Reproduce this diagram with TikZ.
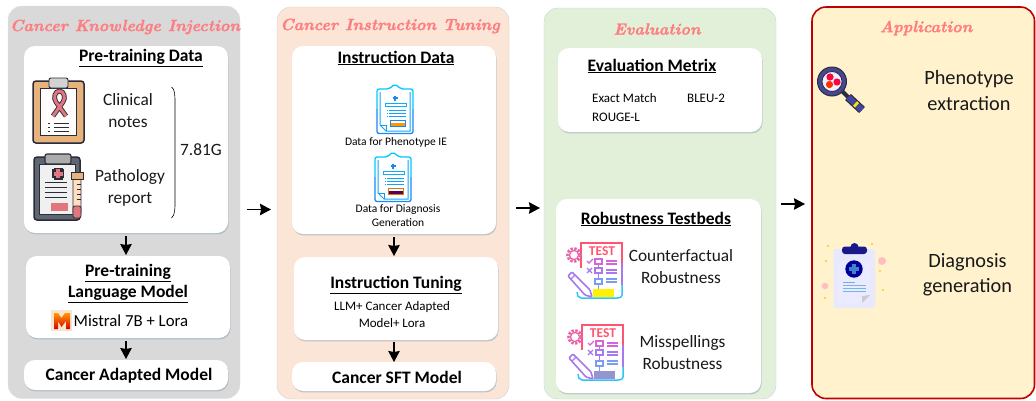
\documentclass[tikz,border=0pt]{standalone}
\usepackage{fontspec}
\setmainfont{Carlito}
\usetikzlibrary{shadows,arrows.meta}
\definecolor{cgray}{HTML}{D9D9D9}
\definecolor{cpeach}{HTML}{FBE5D6}
\definecolor{cgreen}{HTML}{E2F0D9}
\definecolor{cyel}{HTML}{FFF2CC}
\definecolor{cred}{HTML}{C00000}
\definecolor{ctitle}{HTML}{FF7C80}
\definecolor{cdark}{HTML}{2B2B3A}
\definecolor{cshadow}{HTML}{8FA6B8}
\definecolor{tred}{HTML}{FF5570}
\definecolor{tpink}{HTML}{E860A8}
\definecolor{tmag}{HTML}{D066D8}
\definecolor{tvio}{HTML}{A878EE}
\definecolor{tblu}{HTML}{7C9CF0}
\definecolor{tcya}{HTML}{30C4F2}
\definecolor{dcya}{HTML}{00C8FF}
\definecolor{dblu}{HTML}{1888F5}
\definecolor{ftan}{HTML}{E8B27C}
\definecolor{ribb}{HTML}{E0777F}
\definecolor{fgra}{HTML}{5E6670}
\newfontfamily\titlefont[BoldItalicFeatures={FakeBold=1.2}]{Latin Modern Roman}
\newcommand{\fs}[2]{\fontsize{#1}{#2}\selectfont}
\tikzset{
  x=1pt,y=-1pt,
  panel/.style={rounded corners=14pt,inner sep=0pt,outer sep=0pt,anchor=center},
  wbox/.style={fill=white,rounded corners=11pt,inner sep=0pt,outer sep=0pt,
    drop shadow={shadow xshift=0.6pt,shadow yshift=-1.4pt,opacity=.55,fill=cshadow}},
  ptitle/.style={text=ctitle,inner sep=0pt,font=\titlefont\bfseries\itshape\fs{16.2}{20}},
  head/.style={font=\bfseries\fs{17.5}{21.5},align=center,inner sep=0pt,yshift=-1pt},
  big/.style={font=\fs{17.3}{22},align=center,inner sep=0pt,text=black!90,yshift=-1pt},
  mid/.style={font=\fs{16.8}{21},align=center,inner sep=0pt,yshift=-.5pt},
  small/.style={font=\fs{11.5}{14},align=center,inner sep=0pt,yshift=-.5pt},
  smallb/.style={font=\fs{13}{16.5},align=center,inner sep=0pt,yshift=-.5pt},
  arr/.style={line width=1.5pt,-{Stealth[length=11pt,width=11.5pt,inset=1pt]}},
  tst/.style={inner sep=0pt,font=\bfseries\fs{13.5}{13.5},text=#1},
  tst/.default=red
}
\newcommand{\clinicalicon}{%
 \begin{scope}[shift={(33,78)}]
  \draw[cdark,line width=1.5pt,fill=ftan,rounded corners=3pt] (0,3) rectangle (51,65);
  \draw[cdark,line width=.9pt,fill=white!95!pink] (7,10) rectangle (43,57);
  \draw[cdark,line width=.9pt,fill=gray!35,rounded corners=2pt] (16,0) rectangle (35,10);
  \draw[cdark,line width=4.8pt] (20,38) -- (30,24) .. controls (33,20) and (31,13) .. (26.5,13) .. controls (22,13) and (20,20) .. (23,24) -- (33,38);
  \draw[ribb,line width=3pt] (20,38) -- (30,24) .. controls (33,20) and (31,13) .. (26.5,13) .. controls (22,13) and (20,20) .. (23,24) -- (33,38);
  \foreach \yy in {45,49,53}{\draw[cdark,line width=.8pt] (21,\yy) -- (36,\yy); \draw[cdark,line width=.8pt] (15,\yy) -- (17,\yy);}
 \end{scope}}
\newcommand{\pathicon}{%
 \begin{scope}[shift={(34,154)}]
  \draw[cdark,line width=1.5pt,fill=fgra,rounded corners=3pt] (0,3) rectangle (46,66);
  \draw[cdark,line width=.8pt,fill=gray!12] (5,10) rectangle (41,60);
  \draw[cdark,line width=1.1pt,fill=gray!65,rounded corners=2pt] (11,0) rectangle (37,10);
  \fill[cdark] (19.5,13.5) rectangle (28.5,25.5);
  \fill[cdark] (18,15) rectangle (30,24);
  \fill[ribb] (22,15) rectangle (26,24);
  \fill[ribb] (19.5,17.5) rectangle (28.5,21.5);
  \foreach \yy in {28,33,38,43}{\draw[cdark,line width=.9pt] (11,\yy) -- (33,\yy);}
  \fill[ribb] (17,49) rectangle (34,57);
  \draw[cdark,line width=.9pt,fill=orange!25!white,rounded corners=1pt] (39,22) rectangle (47,60);
  \draw[cdark,line width=.7pt,fill=ribb,rounded corners=2pt] (39,52) rectangle (47,64);
  \draw[cdark,line width=.9pt,fill=ftan] (37,18) rectangle (49,25);
  \foreach \yy in {30,35,40,45}{\draw[cdark,line width=.6pt] (43,\yy) -- (47,\yy);}
 \end{scope}}
\newcommand{\bluedoc}[4]{% x y fill outline
 \begin{scope}[shift={(#1,#2)}]
  \draw[dcya,line width=1.3pt,rounded corners=2pt] (0,25) -- (0,5) -- (12,5) -- (18,0) -- (24,5) -- (36,5) -- (36,25);
  \draw[dblu,line width=1.3pt,rounded corners=2pt] (36,25) -- (36,49.5) -- (0,49.5) -- (0,25);
  \draw[dcya!50!dblu,line width=1pt] (3,8) -- (3,41) -- (9,47) -- (33,47) -- (33,8);
  \draw[dcya!30!dblu,line width=.9pt] (3,41) -- (9,41) -- (9,47);
  \draw[dblu,line width=1.2pt] (18,11.5) -- (18,16.5) (15.5,14) -- (20.5,14);
  \draw[dcya!60!dblu,line width=.9pt,fill=white] (8,19) rectangle (29,22.5);
  \foreach \yy in {26,29,32}{\draw[dcya!40!dblu,line width=1pt] (12,\yy) -- (29,\yy); \draw[dcya!40!dblu,line width=1pt] (9.5,\yy) -- (10.5,\yy);}
  \draw[#4,line width=1pt] (13,36) rectangle (28,42);
  \fill[#3] (14,38.5) rectangle (28,42);
 \end{scope}}
\newcommand{\testicon}[4]{% x y fill name
 \begin{scope}[shift={(#1,#2)}]
  \draw[tred,line width=1.5pt] (14,25) -- (14,0) -- (55,0) -- (55,20);
  \draw[tvio,line width=1.5pt] (55,20) -- (55,42);
  \draw[tcya,line width=1.5pt] (55,42) -- (55,52) .. controls (55,55) and (50,55) .. (50,55) -- (14,55) .. controls (11,55) and (10,52) .. (10,49);
  \node[tst=tred] (#4) at (35,8.5) {TEST};
  \draw[tpink,line width=2.4pt,dash pattern=on 2.4pt off 1.5pt] (7,12) circle (6.6);
  \draw[tpink,line width=1.3pt] (7,12) circle (4.6);
  \draw[tmag,line width=1.3pt] (20,18) -- (22,20) -- (26,16);
  \draw[tvio,line width=1.3pt] (20,25) -- (25,30) (25,25) -- (20,30);
  \draw[tmag,line width=1.2pt] (28,16) rectangle (35,21) (31.5,21) -- (31.5,25);
  \draw[tvio,line width=1.2pt] (28,25) rectangle (35,30) (31.5,30) -- (31.5,36);
  \draw[tblu,line width=1.2pt] (28,36) rectangle (35,41) (31.5,41) -- (31.5,46);
  \foreach \yy/\cc in {18/tmag,21/tmag,27/tvio,30/tvio,36/tblu,39/tblu}{\draw[\cc,line width=1.2pt] (39,\yy) -- (50,\yy);}
  \draw[tvio,line width=1.6pt,fill=white,rounded corners=1pt] (1,33) -- (5,29) -- (23,47) -- (25,54) -- (18,52) -- cycle;
  \draw[tvio,line width=1.2pt] (4,36) -- (8,32);
  \fill[#3] (26,46) rectangle (47,54);
 \end{scope}}
\begin{document}
\begin{tikzpicture}
\useasboundingbox (0,0) rectangle (1036,400);
\fill[white] (0,0) rectangle (1036,400);
% panels
\draw[panel,fill=cgray,draw=cshadow!30] (8,6) rectangle (240,398.5);
\draw[panel,fill=cpeach,draw=gray!35] (277,7) rectangle (509,399);
\draw[panel,fill=cgreen,draw=cshadow!50] (544,8) rectangle (776,399);
\draw[panel,fill=cyel,draw=cred,line width=1.6pt] (812,7) rectangle (1034.5,398.5);
\node[ptitle] (t1) at (125,27) {Cancer Knowledge Injection};
\node[ptitle] (t2) at (390,26) {Cancer Instruction Tuning};
\node[ptitle] (t3) at (657,29) {Evaluation};
\node[ptitle] (t4) at (926,28) {Application};
% white boxes
\node[wbox,minimum width=204pt,minimum height=187pt] (a1) at (126,139.5) {};
\node[wbox,minimum width=204pt,minimum height=82pt] (a2) at (128,297) {};
\node[wbox,minimum width=204pt,minimum height=30pt] (a3) at (126,375) {};
\node[wbox,minimum width=204pt,minimum height=188pt] (b1) at (394,140) {};
\node[wbox,minimum width=204pt,minimum height=83pt] (b2) at (396,298.5) {};
\node[wbox,minimum width=204pt,minimum height=29pt] (b3) at (394,376.5) {};
\node[wbox,minimum width=204pt,minimum height=84pt] (c1) at (660,90) {};
\node[wbox,minimum width=205pt,minimum height=194pt] (c2) at (658.5,296) {};
% arrows
\draw[arr,shorten <=3pt,shorten >=1pt] (a1.south) -- (a1.south |- a2.north);
\draw[arr,shorten <=3pt,shorten >=1pt] (a2.south -| a1.south) -- (a3.north);
\draw[arr,shorten <=3pt,shorten >=1pt] (b1.south) -- (b1.south |- b2.north);
\draw[arr,shorten <=2pt,shorten >=0pt] (b2.south -| b3.north) -- (b3.north);
\coordinate (g1s) at (247,209.5); \coordinate (g1e) at (271,209.5);
\coordinate (g2s) at (516,208); \coordinate (g2e) at (540,208);
\coordinate (g3s) at (781,204); \coordinate (g3e) at (805,204);
\draw[arr] (g1s) -- (g1e);
\draw[arr] (g2s) -- (g2e);
\draw[arr] (g3s) -- (g3e);
% panel 1
\node[head] (h1) at (141,57) {\underline{Pre-training Data}};
\clinicalicon
\pathicon
\node[big] (n1) at (128,110) {Clinical\\notes};
\node[big] (n2) at (130,187) {Pathology\\report};
\node[big] (n3) at (201,149) {7.81G};
\coordinate (bt) at (171.5,87); \coordinate (bb) at (171.5,218);
\draw[black,line width=.6pt] (bt) .. controls (175,89) and (175,96) .. (175,103) -- (175,202) .. controls (175,209) and (175,215) .. (bb);
\node[head] (h2) at (128,282.5) {\underline{Pre-training}\\\underline{Language Model}};
\fill[orange!12!white!90!brown] (51,310) rectangle (72,331);
\path[top color=orange!80!yellow,bottom color=red!85!black] (54,329) -- (54,313) -- (58,313) -- (61.5,318) -- (65,313) -- (70,313) -- (70,329) -- (66,329) -- (66,321) -- (61.5,327) -- (58,321) -- (58,329) -- cycle;
\node[mid,anchor=west] (n4) at (73.5,320.5) {Mistral 7B + Lora};
\node[head,anchor=center] (h3) at (129,375) {Cancer Adapted Model};
% panel 2
\node[head] (h4) at (396,57) {\underline{Instruction Data}};
\bluedoc{377}{84}{orange!80!yellow}{dblu}
\node[small] (n5) at (396,142) {Data for Phenotype IE};
\bluedoc{375}{152}{violet!70!black}{orange!90!black}
\node[small] (n6) at (398,215) {Data for Diagnosis\\Generation};
\node[head] (h5) at (396,284) {\underline{Instruction Tuning}};
\node[smallb] (n7) at (392,314) {LLM+ Cancer Adapted\\Model+ Lora};
\node[head] (h6) at (397,376) {Cancer SFT Model};
% panel 3
\node[head] (h7) at (652,65) {\underline{Evaluation Metrix}};
\node[smallb,anchor=west] (n8) at (592,98) {Exact Match};
\node[smallb,anchor=west] (n9) at (687,98) {BLEU-2};
\node[smallb,anchor=west] (n10) at (592,117) {ROUGE-L};
\node[head] (h8) at (656,218) {\underline{Robustness Testbeds}};
\testicon{567}{243}{yellow}{te1}
\testicon{568}{325}{blue!40!gray!60!white}{te2}
\node[big] (n11) at (681,266) {Counterfactual\\Robustness};
\node[big] (n12) at (682.5,352) {Misspellings\\Robustness};
% panel 4
\node[big,font=\fs{20.3}{26}] (n13) at (969,90) {Phenotype\\extraction};
\node[big,font=\fs{20.3}{25}] (n14) at (967.5,273.5) {Diagnosis\\generation};
% magnifier
\draw[cdark,line width=8.4pt] (848,97) -- (862,110);
\draw[blue!40!gray!90!black,line width=6pt] (848,97) -- (862,110);
\draw[yellow!85!orange,line width=6pt] (855,103.5) -- (857,105.3);
\draw[cdark,line width=4pt] (842,91) -- (848,97);
\draw[cdark,line width=1pt,fill=blue!35!gray!85!black] (832,81.5) circle (14.5);
\draw[cdark,line width=.8pt,fill=blue!6!white] (832,81.5) circle (10);
\fill[red!75!magenta] (830,77) circle (3.6);
\fill[red!75!magenta] (837,82) circle (3.6);
\fill[red!65!orange] (829.5,84.5) circle (3.6);
% diagnosis clipboard
\fill[blue!9!white,rounded corners=2pt] (833.5,249) rectangle (875,308);
\fill[white!92!blue] (839,262) -- (870,262) -- (870,295) -- (862,303) -- (839,303) -- cycle;
\fill[gray!40] (862,303) -- (870,295) -- (862,296) -- cycle;
\fill[blue!55!black!80!gray,rounded corners=3pt] (842,254) rectangle (867,246.5);
\fill[blue!55!black!80!gray] (854.5,247) circle (4);
\fill[blue!60!black] (854,269) circle (8.7);
\fill[cyan!50!blue!80!white] (852.3,264) rectangle (855.7,274);
\fill[cyan!50!blue!80!white] (849,267.3) rectangle (859,270.7);
\fill[cyan!70!blue!60!white] (843,281.7) rectangle (855,282.7);
\foreach \yy in {285,288,291}{\fill[cyan!70!blue!55!white] (843,\yy-.5) rectangle (866,\yy+.5);}
\fill[pink] (882,261) circle (4);
\fill[pink] (825,286) circle (3.3);
\foreach \xx/\yy in {828/246,872/244,826/261,880/271,883/290,825/298}{\fill[yellow!60!orange!90!white] (\xx,\yy) circle (1.1);}
\end{tikzpicture}
\end{document}
